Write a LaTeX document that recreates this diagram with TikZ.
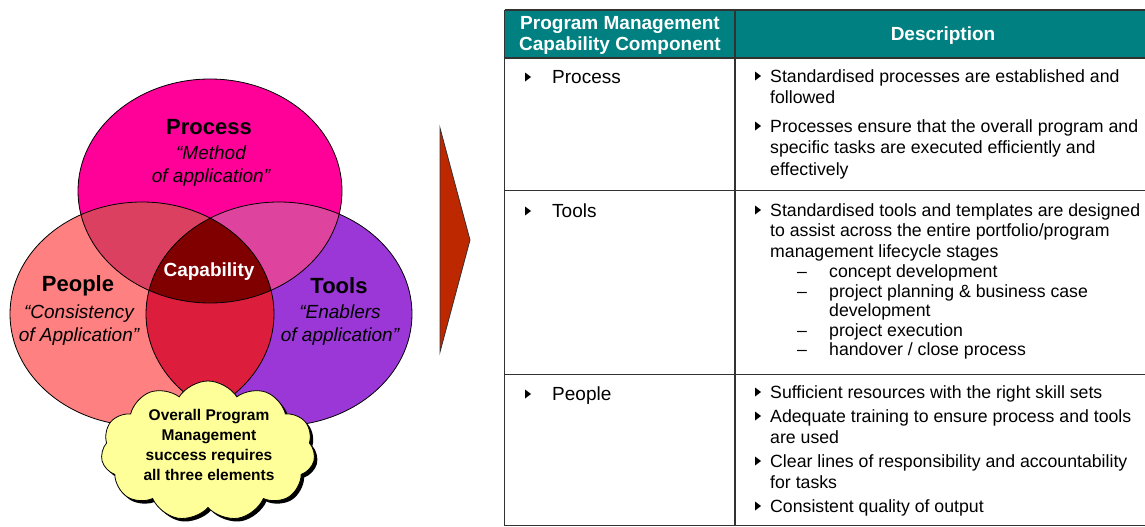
\documentclass[tikz,border=0pt]{standalone}
\usepackage{fontspec}
\setmainfont{Liberation Sans}
\usetikzlibrary{shapes.symbols,shadows}
\definecolor{procC}{RGB}{255,0,153}
\definecolor{peopC}{RGB}{255,128,128}
\definecolor{toolC}{RGB}{155,55,215}
\definecolor{ppC}{RGB}{220,64,96}
\definecolor{ptC}{RGB}{222,68,158}
\definecolor{ttC}{RGB}{220,30,60}
\definecolor{capC}{RGB}{128,0,0}
\definecolor{cloudC}{RGB}{255,255,153}
\definecolor{arrC}{RGB}{190,40,0}
\definecolor{tealC}{RGB}{0,128,128}
\definecolor{lineC}{RGB}{50,50,50}
\newcommand\mybul[2]{\fill[black] ({#1},{#2-4.5}) -- ({#1},{#2+4.5}) -- ({#1+6},{#2}) -- cycle;}
\begin{document}
\begin{tikzpicture}[x=1pt,y=-1pt,
  lbl/.style={inner sep=0, font=\fontsize{22}{26}\selectfont\bfseries},
  sublbl/.style={inner sep=0, align=center, font=\fontsize{19}{23}\selectfont\itshape},
  cloudbox/.style={cloud, cloud puffs=11, cloud puff arc=115, aspect=1.5, minimum width=214pt, minimum height=140pt, fill=cloudC, draw=black, line width=0.8pt, drop shadow={shadow xshift=3pt, shadow yshift=-3pt, fill=black, opacity=1}},
  cloudtxt/.style={inner sep=0, align=center, font=\fontsize{15.5}{20}\selectfont\bfseries},
  tbl/.style={draw=lineC, line width=1.2pt},
  hdr/.style={inner sep=0, align=center, text=white, font=\fontsize{19}{21}\selectfont\bfseries},
  rowlbl/.style={anchor=base west, inner sep=0, font=\fontsize{19}{22}\selectfont},
  desc/.style={anchor=base west, inner sep=0, align=left, font=\fontsize{17.7}{21}\selectfont},
  venn/.style={draw=black, line width=0.8pt}
]
\useasboundingbox (0,0) rectangle (1145,527);
\def\procE{(210,191) ellipse [x radius=132pt, y radius=112pt]}
\def\peopE{(142,314) ellipse [x radius=132pt, y radius=112pt]}
\def\toolE{(279,314) ellipse [x radius=133pt, y radius=112pt]}
% Venn fills
\fill[peopC] \peopE;
\fill[toolC] \toolE;
\fill[procC] \procE;
\begin{scope}\clip \peopE; \fill[ttC] \toolE; \end{scope}
\begin{scope}\clip \procE; \fill[ppC] \peopE; \fill[ptC] \toolE; \end{scope}
\begin{scope}\clip \procE; \clip \peopE; \fill[capC] \toolE; \end{scope}
\draw[venn] \peopE;
\draw[venn] \toolE;
\draw[venn] \procE;
% Venn labels
\node[lbl] (procL) at (209,127) {Process};
\node[sublbl] (procS) at (211,166.5) {“Method\\of application”};
\node[lbl] (peopL) at (78,286) {People};
\node[sublbl] (peopS) at (79,325) {“Consistency\\of Application”};
\node[lbl] (toolL) at (339,286) {Tools};
\node[sublbl] (toolS) at (340,325) {“Enablers\\of application”};
\node[lbl, text=white, font=\fontsize{19}{22}\selectfont\bfseries] (capL) at (209,272) {Capability};
% cloud
\node[cloudbox] (cl) at (208,451) {};
\node[cloudtxt] (clt) at (209,445) {Overall Program\\Management\\success requires\\all three elements};
% arrow
\filldraw[fill=arrC, draw=black!80, line width=0.8pt] (440,128) -- (470,240) -- (440,352) -- cycle;
% table
\fill[tealC] (504.5,10) rectangle (1146,58);
\draw[tbl] (504.5,10) -- (1146,10);
\draw[tbl] (504.5,58) -- (1146,58);
\draw[tbl] (504.5,190.5) -- (1146,190.5);
\draw[tbl] (504.5,374.5) -- (1146,374.5);
\draw[tbl] (504.5,525.5) -- (1146,525.5);
\draw[tbl] (504.5,10) -- (504.5,525.5);
\draw[tbl] (735,10) -- (735,525.5);
\node[hdr] (h1) at (620,35.5) {Program Management\\Capability Component};
\node[hdr] (h2) at (943,35.5) {Description};
% left column
\mybul{525}{77}
\node[rowlbl] (r1) at (552,83.5) {Process};
\mybul{525}{211}
\node[rowlbl] (r2) at (552,217.5) {Tools};
\mybul{525}{394}
\node[rowlbl] (r3) at (552,400.5) {People};
% descriptions (base anchor = last line's baseline)
\mybul{755}{76}
\node[desc] (d1) at (770,103) {Standardised processes are established and\\followed};
\mybul{755}{126}
\node[desc, font=\fontsize{17.7}{21.5}\selectfont] (d2) at (770,175) {Processes ensure that the overall program and\\specific tasks are executed efficiently and\\effectively};
\mybul{755}{210}
\node[desc, font=\fontsize{17.7}{20.5}\selectfont] (d3) at (770,257) {Standardised tools and templates are designed\\to assist across the entire portfolio/program\\management lifecycle stages};
\node[desc] (m1) at (797,277) {–};
\node[desc] (e1) at (829,277) {concept development};
\node[desc] (m2) at (797,297) {–};
\node[desc, font=\fontsize{17.7}{19.5}\selectfont] (e2) at (829,316.5) {project planning \& business case\\development};
\node[desc] (m3) at (797,336) {–};
\node[desc] (e3) at (829,336) {project execution};
\node[desc] (m4) at (797,355) {–};
\node[desc] (e4) at (829,355) {handover / close process};
\mybul{755}{392}
\node[desc] (d4) at (770,398) {Sufficient resources with the right skill sets};
\mybul{755}{416}
\node[desc] (d5) at (770,443) {Adequate training to ensure process and tools\\are used};
\mybul{755}{461}
\node[desc] (d6) at (770,488) {Clear lines of responsibility and accountability\\for tasks};
\mybul{755}{506}
\node[desc] (d7) at (770,512) {Consistent quality of output};
\end{tikzpicture}
\end{document}
